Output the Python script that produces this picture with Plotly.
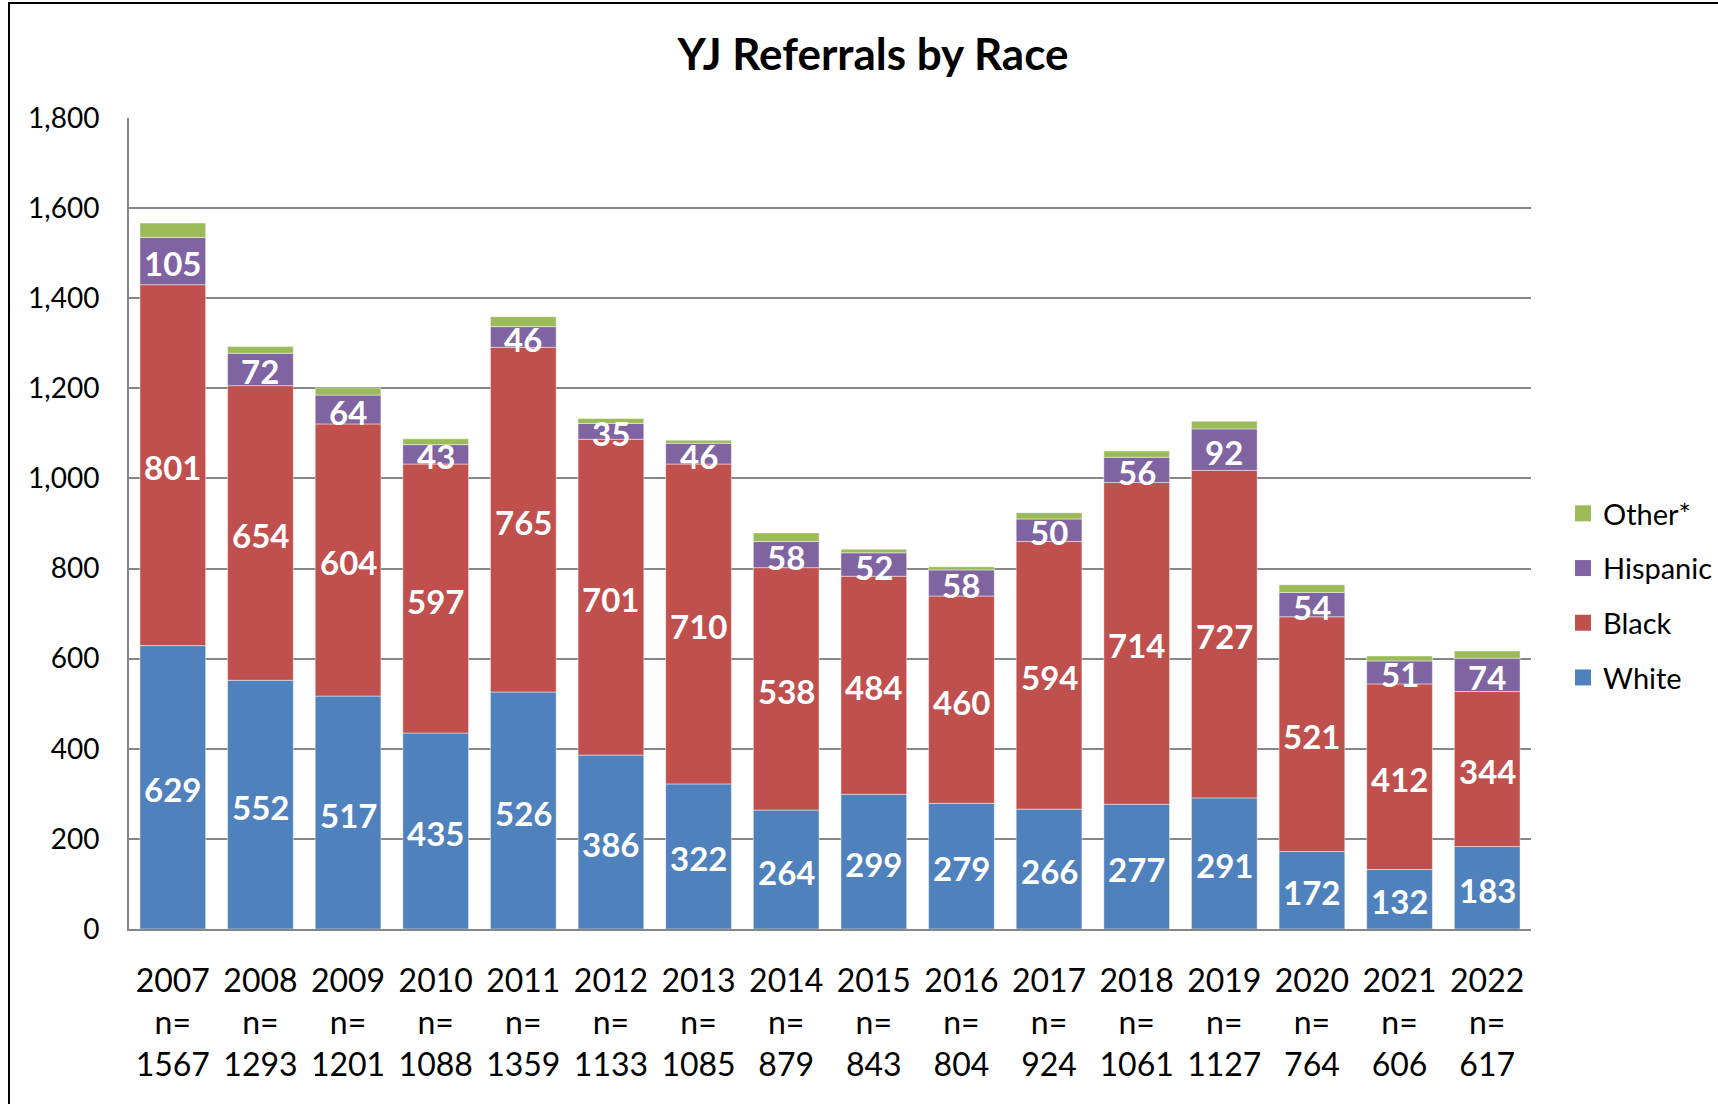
import plotly.graph_objects as go

years = ["2007", "2008", "2009", "2010", "2011", "2012", "2013", "2014",
         "2015", "2016", "2017", "2018", "2019", "2020", "2021", "2022"]
totals = [1567, 1293, 1201, 1088, 1359, 1133, 1085, 879, 843, 804, 924, 1061, 1127, 764, 606, 617]
white = [629, 552, 517, 435, 526, 386, 322, 264, 299, 279, 266, 277, 291, 172, 132, 183]
black = [801, 654, 604, 597, 765, 701, 710, 538, 484, 460, 594, 714, 727, 521, 412, 344]
hispanic = [105, 72, 64, 43, 46, 35, 46, 58, 52, 58, 50, 56, 92, 54, 51, 74]
other = [32, 15, 16, 13, 22, 11, 7, 19, 8, 7, 14, 14, 17, 17, 11, 16]

y_ticks = [0, 200, 400, 600, 800, 1000, 1200, 1400, 1600, 1800]

categories = [f"{y}<br>n=<br>{t}" for y, t in zip(years, totals)]

colors = {"White": "#4F81BD", "Black": "#C0504D", "Hispanic": "#8064A2", "Other*": "#9BBB59"}
series = [("White", white), ("Black", black), ("Hispanic", hispanic), ("Other*", other)]

W, H = 1718, 1104
ml, mr, mt, mb = 129, 187, 118, 175
pw, ph = W - ml - mr, H - mt - mb

fig = go.Figure()
annotations = []
base = [0] * len(years)
for name, vals in series:
    fig.add_trace(go.Bar(
        x=categories, y=vals, base=base, name=name,
        marker=dict(color=colors[name], line=dict(width=1, color="rgba(255,255,255,0.45)")),
        showlegend=False, hoverinfo="skip",
    ))
    if name != "Other*":
        for c, b, v in zip(categories, base, vals):
            annotations.append(dict(
                x=c, y=b + v / 2, xref="x", yref="y", text=str(v), showarrow=False,
                xanchor="center", yanchor="middle", yshift=-2,
                font=dict(family="Lato", size=33, color="white", weight="bold"),
            ))
    base = [b + v for b, v in zip(base, vals)]

# legend entries (reverse order)
for name, _ in reversed(series):
    fig.add_trace(go.Scatter(
        x=[None], y=[None], mode="markers", name=name,
        marker=dict(symbol="square", size=18, color=colors[name]),
        legendgroup=name, showlegend=True,
    ))

fig.update_layout(
    width=W, height=H,
    margin=dict(l=ml, r=mr, t=mt, b=mb, autoexpand=False),
    paper_bgcolor="white", plot_bgcolor="white",
    barmode="overlay", bargap=0.25,
    font=dict(family="Lato", color="black"),
    title=dict(text="<b>YJ Referrals by Race</b>", x=873 / W, xanchor="center",
               y=1 - 55 / H, yanchor="middle",
               font=dict(family="Lato", size=44, color="black")),
    showlegend=True,
    legend=dict(xref="container", yref="container",
                x=1563 / W, xanchor="left", y=1 - 488 / H, yanchor="top",
                font=dict(family="Lato", size=29, color="black"),
                itemsizing="trace", tracegroupgap=14, bgcolor="rgba(0,0,0,0)"),
    annotations=annotations,
    shapes=[dict(type="rect", xref="paper", yref="paper",
                 x0=(9 - ml) / pw, x1=1.3, y0=-0.4, y1=1 + (mt - 3) / ph,
                 line=dict(color="black", width=2), fillcolor="rgba(0,0,0,0)", layer="below")],
)

fig.update_xaxes(
    type="category", range=[-0.5, len(years) - 0.5],
    showgrid=False, showline=True, linecolor="#868686", linewidth=2,
    ticks="outside", ticklen=23, tickcolor="rgba(0,0,0,0)", automargin=False,
    tickfont=dict(family="Lato", size=32, color="black"), tickangle=0,
)
fig.update_yaxes(
    range=[0, 1800], tickvals=y_ticks, tickformat=",",
    showgrid=True, gridcolor="#868686", gridwidth=1.5,
    showline=True, linecolor="#868686", linewidth=2, zeroline=False,
    ticks="outside", ticklen=22, tickcolor="rgba(0,0,0,0)", automargin=False,
    tickfont=dict(family="Lato", size=28, color="black"),
)

fig.write_html("out.html", config={"displayModeBar": False},
               post_script="document.body.style.margin='0';document.body.style.overflow='hidden';")
